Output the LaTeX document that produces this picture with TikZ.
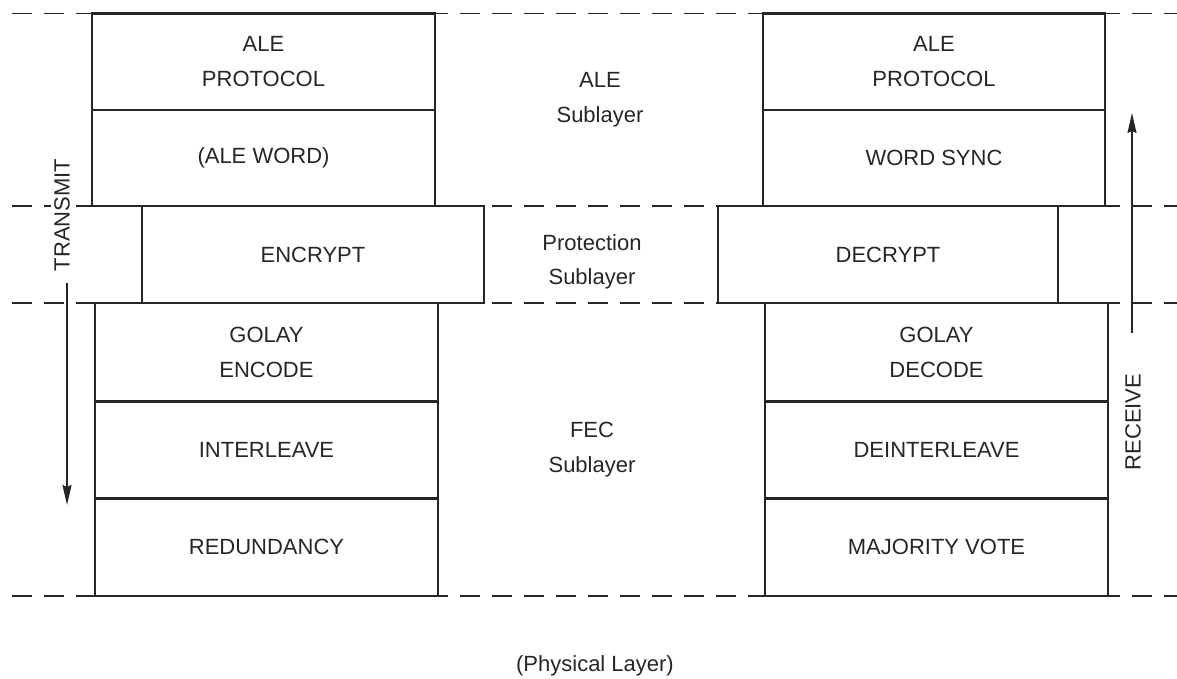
\documentclass[tikz,border=0pt]{standalone}
\usepackage{fontspec}
\setmainfont{Liberation Sans}
\usetikzlibrary{arrows.meta}
\definecolor{ink}{HTML}{262626}
\begin{document}
\begin{tikzpicture}[x=1pt,y=-1pt,
  every node/.style={text=ink, font=\fontsize{22}{34.5}\selectfont, align=center},
  layerbox/.style={draw=ink, line width=2.1pt, inner sep=0pt},
  boundary/.style={draw=ink, line width=1.9pt, dash pattern=on 20pt off 12pt},
  flow/.style={draw=ink, line width=1.6pt, -{Stealth[length=20pt,width=9pt,inset=2pt]}},
  sidelabel/.style={rotate=90, fill=white, inner sep=3pt}]
\useasboundingbox (0,0) rectangle (1177,679);

% sublayer boundaries
\coordinate (b0w) at (12,13.5);  \coordinate (b0e) at (1177,13.5);
\coordinate (b1w) at (12,206);   \coordinate (b1e) at (1177,206);
\coordinate (b2w) at (12,303);   \coordinate (b2e) at (1177,303);
\coordinate (b3w) at (12,596);   \coordinate (b3e) at (1177,596);
\draw[boundary] (b0w) -- (b0e);
\draw[boundary] (b1w) -- (b1e);
\draw[boundary] (b2w) -- (b2e);
\draw[boundary] (b3w) -- (b3e);

% transmit stack
\node[layerbox, minimum width=343pt, minimum height=96.5pt] (aleTx) at (263.5,61.75) {ALE\\PROTOCOL};
\node[layerbox, minimum width=343pt, minimum height=96pt] (wordTx) at (263.5,158) {(ALE WORD)};
\node[layerbox, minimum width=342pt, minimum height=97pt] (encrypt) at (313,254.5) {ENCRYPT};
\node[layerbox, minimum width=343pt, minimum height=98.5pt] (golayTx) at (266.5,352.25) {GOLAY\\ENCODE};
\node[layerbox, minimum width=343pt, minimum height=97pt] (interleave) at (266.5,450) {INTERLEAVE};
\node[layerbox, minimum width=343pt, minimum height=97.5pt] (redundancy) at (266.5,547.25) {REDUNDANCY};

% receive stack
\node[layerbox, minimum width=342pt, minimum height=96.5pt] (aleRx) at (934,61.75) {ALE\\PROTOCOL};
\node[layerbox, minimum width=342pt, minimum height=96pt] (syncRx) at (934,158) {WORD SYNC};
\node[layerbox, minimum width=340pt, minimum height=97pt] (decrypt) at (888,254.5) {DECRYPT};
\node[layerbox, minimum width=343pt, minimum height=98.5pt] (golayRx) at (936.5,352.25) {GOLAY\\DECODE};
\node[layerbox, minimum width=343pt, minimum height=97pt] (deinterleave) at (936.5,450) {DEINTERLEAVE};
\node[layerbox, minimum width=343pt, minimum height=97.5pt] (majority) at (936.5,547.25) {MAJORITY VOTE};

% sublayer names
\node (aleSub) at (600,99.5) {ALE\\Sublayer};
\node (protSub) at (592,262) {Protection\\Sublayer};
\node (fecSub) at (592,449.5) {FEC\\Sublayer};
\node (phys) at (595,666) {(Physical Layer)};

% direction of flow
\node[sidelabel] (transmit) at (62,215) {TRANSMIT};
\node[sidelabel] (receive) at (1133,422) {RECEIVE};
\coordinate (txStart) at (67,283);
\coordinate (txEnd) at (67,505);
\coordinate (rxStart) at (1132,333);
\coordinate (rxEnd) at (1132,113);
\draw[flow] (txStart) -- (txEnd);
\draw[flow] (rxStart) -- (rxEnd);
\end{tikzpicture}
\end{document}
